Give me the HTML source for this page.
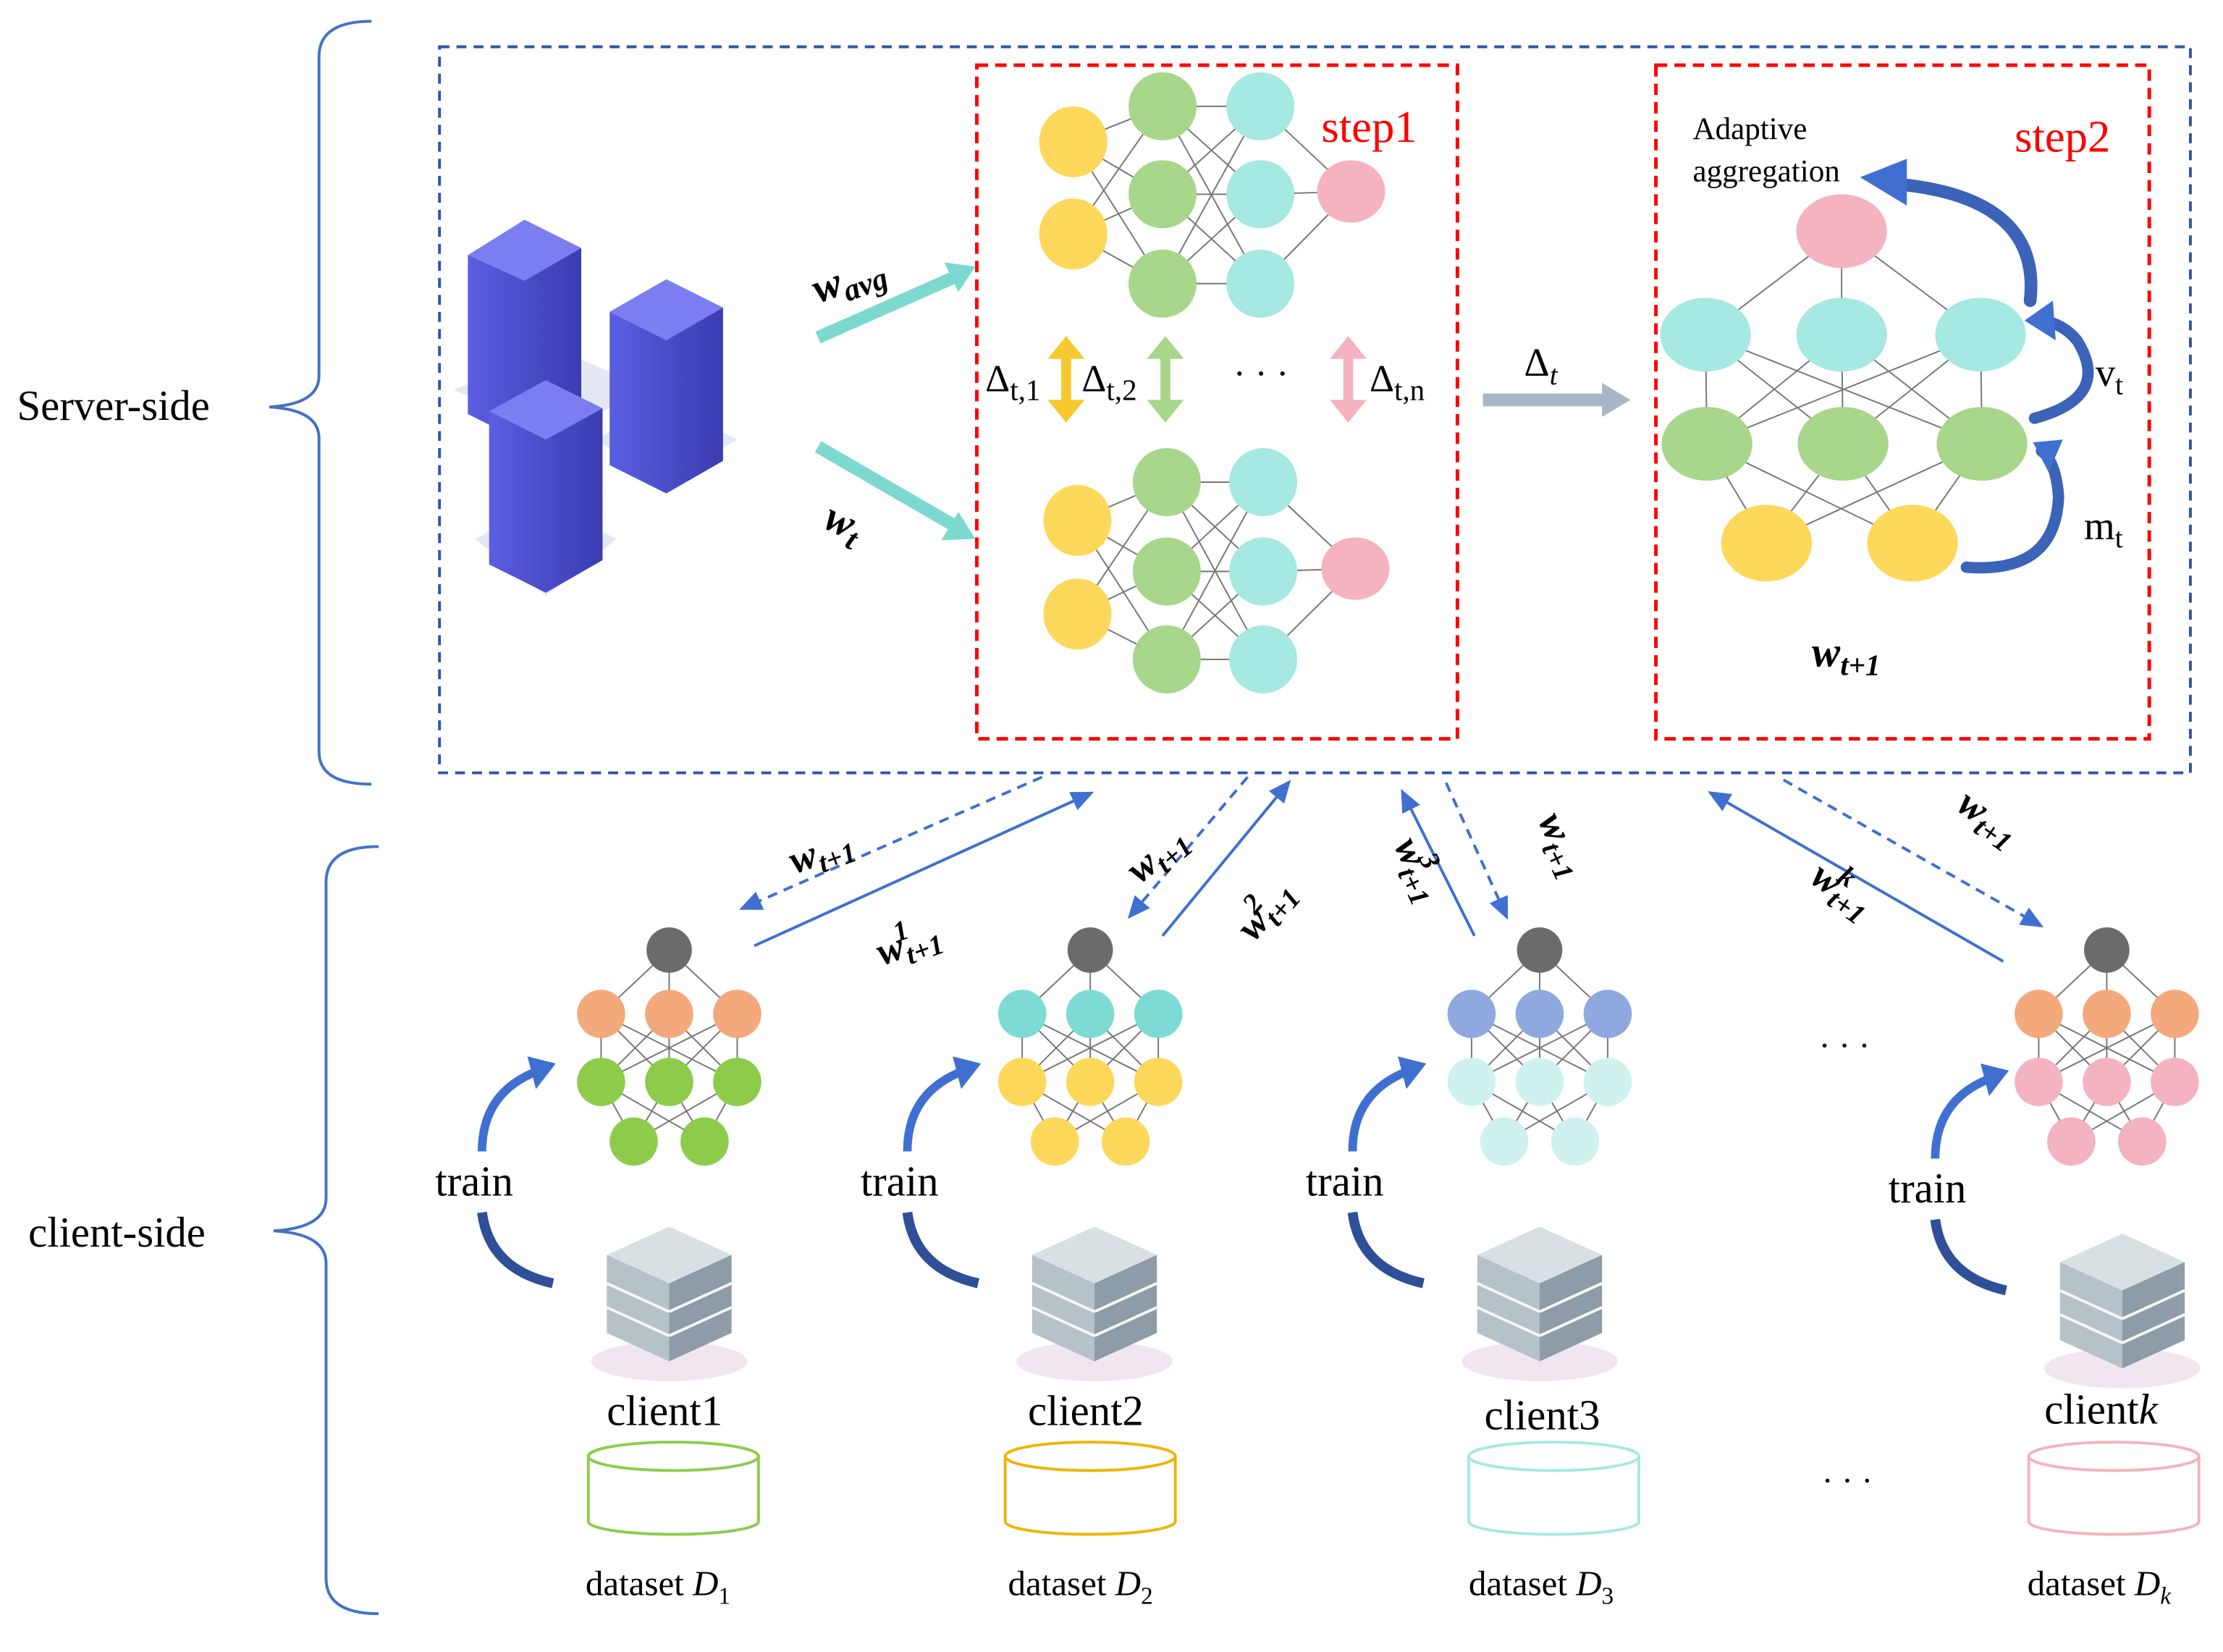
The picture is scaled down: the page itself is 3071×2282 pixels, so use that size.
<!DOCTYPE html>
<html><head><meta charset="utf-8"><style>
html,body{margin:0;padding:0;background:#fff;}
svg{display:block;}
text{font-family:"Liberation Serif",serif;}
</style></head><body>
<svg width="3071" height="2282" viewBox="0 0 1568 1165" preserveAspectRatio="none" xmlns="http://www.w3.org/2000/svg">
<defs>
<marker id="ab2" markerWidth="16" markerHeight="14" refX="12" refY="7" orient="auto" markerUnits="userSpaceOnUse"><path d="M0,0 L16,7 L0,14 z" fill="#3f6fd0"/></marker>
<linearGradient id="tw" x1="0" x2="1"><stop offset="0" stop-color="#5a5ee0"/><stop offset="1" stop-color="#3a3cb0"/></linearGradient>
</defs>
<g fill="none" stroke="#4472c4" stroke-width="2">
<path d="M262,15 Q225,15 225,40 L225,265 Q225,285 190,287 Q225,289 225,309 L225,530 Q225,553 262,553"/>
<path d="M267,597 Q230,597 230,622 L230,845 Q230,866 193,868 Q230,870 230,891 L230,1113 Q230,1138 267,1138"/>
</g>
<text x="12" y="296" font-size="30">Server-side</text>
<text x="20" y="879" font-size="30">client-side</text>
<rect x="310" y="33" width="1235" height="512" fill="none" stroke="#2f55a8" stroke-width="2" stroke-dasharray="7,5"/>
<rect x="689" y="46" width="339" height="475" fill="none" stroke="#ff0000" stroke-width="2.5" stroke-dasharray="8,5"/>
<rect x="1168" y="46" width="348" height="475" fill="none" stroke="#ff0000" stroke-width="2.5" stroke-dasharray="8,5"/>
<text x="932" y="100" font-size="32" fill="#ff0000">step1</text>
<text x="1421" y="107" font-size="32" fill="#ff0000">step2</text>
<g>
<polygon points="320,275 390,245 460,275 390,305" fill="#e4e8f4"/>
<polygon points="330,180 370,155 410,175 410,290 370,312 330,292" fill="url(#tw)"/>
<polygon points="370,155 410,175 370,198 330,180" fill="#7a7ef0"/>
<polygon points="420,310 470,285 520,310 470,340" fill="#e4e8f4"/>
<polygon points="430,220 470,197 510,217 510,325 470,348 430,328" fill="url(#tw)"/>
<polygon points="470,197 510,217 470,240 430,220" fill="#7a7ef0"/>
<polygon points="335,380 385,355 435,380 385,420" fill="#e4e8f4"/>
<polygon points="345,290 385,268 425,288 425,395 385,418 345,398" fill="url(#tw)"/>
<polygon points="385,268 425,288 385,310 345,290" fill="#7a7ef0"/>
</g>
<g stroke="#7dd9cf" stroke-width="9">
<line x1="577" y1="238" x2="672" y2="196"/>
<line x1="577" y1="315" x2="672" y2="370"/>
</g>
<polygon points="688,188 666,185 676,206" fill="#7dd9cf"/>
<polygon points="688,380 664,381 676,361" fill="#7dd9cf"/>
<text x="572" y="205" font-size="30" font-style="italic" font-weight="bold" transform="rotate(-20 600 195)">w<tspan font-size="22" dy="6">avg</tspan></text>
<text x="582" y="380" font-size="30" font-style="italic" font-weight="bold" transform="rotate(25 600 370)">w<tspan font-size="22" dy="6">t</tspan></text>
<g stroke="#777" stroke-width="1">
<path d="M757,100 L820,75 M757,100 L820,137 M757,100 L820,200 M757,165 L820,75 M757,165 L820,137 M757,165 L820,200
M820,75 L889,75 M820,75 L889,137 M820,75 L889,200 M820,137 L889,75 M820,137 L889,137 M820,137 L889,200 M820,200 L889,75 M820,200 L889,137 M820,200 L889,200
M889,75 L953,135 M889,137 L953,135 M889,200 L953,135"/>
<path d="M760,367 L823,340 M760,367 L823,403 M760,367 L823,465 M760,433 L823,340 M760,433 L823,403 M760,433 L823,465
M823,340 L891,340 M823,340 L891,403 M823,340 L891,465 M823,403 L891,340 M823,403 L891,403 M823,403 L891,465 M823,465 L891,340 M823,465 L891,403 M823,465 L891,465
M891,340 L956,401 M891,403 L956,401 M891,465 L956,401"/>
</g>
<g>
<ellipse cx="757" cy="100" rx="24" ry="25" fill="#fdd85a"/><ellipse cx="757" cy="165" rx="24" ry="25" fill="#fdd85a"/>
<ellipse cx="820" cy="75" rx="24" ry="24" fill="#a8d68a"/><ellipse cx="820" cy="137" rx="24" ry="24" fill="#a8d68a"/><ellipse cx="820" cy="200" rx="24" ry="24" fill="#a8d68a"/>
<ellipse cx="889" cy="75" rx="24" ry="24" fill="#a6e8e2"/><ellipse cx="889" cy="137" rx="24" ry="24" fill="#a6e8e2"/><ellipse cx="889" cy="200" rx="24" ry="24" fill="#a6e8e2"/>
<ellipse cx="953" cy="135" rx="24" ry="22" fill="#f4b3be"/>
<ellipse cx="760" cy="367" rx="24" ry="25" fill="#fdd85a"/><ellipse cx="760" cy="433" rx="24" ry="25" fill="#fdd85a"/>
<ellipse cx="823" cy="340" rx="24" ry="24" fill="#a8d68a"/><ellipse cx="823" cy="403" rx="24" ry="24" fill="#a8d68a"/><ellipse cx="823" cy="465" rx="24" ry="24" fill="#a8d68a"/>
<ellipse cx="891" cy="340" rx="24" ry="24" fill="#a6e8e2"/><ellipse cx="891" cy="403" rx="24" ry="24" fill="#a6e8e2"/><ellipse cx="891" cy="465" rx="24" ry="24" fill="#a6e8e2"/>
<ellipse cx="956" cy="401" rx="24" ry="22" fill="#f4b3be"/>
</g>
<g stroke-width="7">
<line x1="752" y1="250" x2="752" y2="285" stroke="#f7c830"/>
<line x1="822" y1="250" x2="822" y2="285" stroke="#a8d68a"/>
<line x1="951" y1="250" x2="951" y2="285" stroke="#f4b3be"/>
</g>
<polygon points="739,253 752,237 765,253" fill="#f7c830"/><polygon points="739,282 752,298 765,282" fill="#f7c830"/>
<polygon points="809,253 822,237 835,253" fill="#a8d68a"/><polygon points="809,282 822,298 835,282" fill="#a8d68a"/>
<polygon points="938,253 951,237 964,253" fill="#f4b3be"/><polygon points="938,282 951,298 964,282" fill="#f4b3be"/>
<text x="695" y="276" font-size="27" font-family="Liberation Sans,sans-serif">Δ<tspan font-size="21" dy="6">t,1</tspan></text>
<text x="763" y="276" font-size="27" font-family="Liberation Sans,sans-serif">Δ<tspan font-size="21" dy="6">t,2</tspan></text>
<text x="870" y="272" font-size="26" font-family="Liberation Sans,sans-serif">· · ·</text>
<text x="966" y="276" font-size="27" font-family="Liberation Sans,sans-serif">Δ<tspan font-size="21" dy="6">t,n</tspan></text>
<line x1="1046" y1="282" x2="1132" y2="282" stroke="#a9b6c8" stroke-width="9"/>
<polygon points="1150,282 1130,270 1130,294" fill="#a9b6c8"/>
<text x="1075" y="265" font-size="28" font-family="Liberation Sans,sans-serif">Δ<tspan font-size="20" dy="6" font-style="italic">t</tspan></text>
<g stroke="#777" stroke-width="1">
<path d="M1299,163 L1203,236 M1299,163 L1299,236 M1299,163 L1397,236
M1203,236 L1204,313 M1203,236 L1300,313 M1203,236 L1398,313 M1299,236 L1204,313 M1299,236 L1300,313 M1299,236 L1398,313 M1397,236 L1204,313 M1397,236 L1300,313 M1397,236 L1398,313
M1204,313 L1246,383 M1204,313 L1349,383 M1300,313 L1246,383 M1300,313 L1349,383 M1398,313 L1246,383 M1398,313 L1349,383"/>
</g>
<ellipse cx="1299" cy="163" rx="32" ry="26" fill="#f4b3be"/>
<ellipse cx="1203" cy="236" rx="32" ry="26" fill="#a6e8e2"/><ellipse cx="1299" cy="236" rx="32" ry="26" fill="#a6e8e2"/><ellipse cx="1397" cy="236" rx="32" ry="26" fill="#a6e8e2"/>
<ellipse cx="1204" cy="313" rx="32" ry="26" fill="#a8d68a"/><ellipse cx="1300" cy="313" rx="32" ry="26" fill="#a8d68a"/><ellipse cx="1398" cy="313" rx="32" ry="26" fill="#a8d68a"/>
<ellipse cx="1246" cy="383" rx="32" ry="27" fill="#fdd85a"/><ellipse cx="1349" cy="383" rx="32" ry="27" fill="#fdd85a"/>
<text x="1194" y="98" font-size="22">Adaptive</text>
<text x="1194" y="128" font-size="22">aggregation</text>
<text x="1278" y="470" font-size="30" font-style="italic" font-weight="bold">w<tspan font-size="21" dy="6">t+1</tspan></text>
<text x="1478" y="272" font-size="28" font-family="Liberation Sans,sans-serif">v<tspan font-size="20" dy="6">t</tspan></text>
<text x="1470" y="380" font-size="28" font-family="Liberation Sans,sans-serif">m<tspan font-size="20" dy="6">t</tspan></text>
<g fill="none" stroke="#3b64b8" stroke-linecap="round">
<path d="M1432,212 Q1440,140 1340,130" stroke-width="9"/>
<path d="M1435,295 Q1490,280 1465,240 Q1455,228 1440,226" stroke-width="8"/>
<path d="M1387,400 Q1450,405 1452,350 Q1450,325 1440,318" stroke-width="8"/>
</g>
<polygon points="1312,125 1345,112 1345,145" fill="#3f6fd0"/>
<polygon points="1428,226 1448,212 1450,240" fill="#3f6fd0"/>
<polygon points="1434,312 1455,310 1445,333" fill="#3f6fd0"/>
<g stroke="#3f6fd0" stroke-width="2" fill="none">
<line x1="735" y1="548" x2="525" y2="640" stroke-dasharray="7,5" marker-end="url(#ab2)"/>
<line x1="532" y1="667" x2="768" y2="560" marker-end="url(#ab2)"/>
<line x1="880" y1="548" x2="798" y2="645" stroke-dasharray="7,5" marker-end="url(#ab2)"/>
<line x1="820" y1="660" x2="908" y2="553" marker-end="url(#ab2)"/>
<line x1="1040" y1="660" x2="990" y2="560" marker-end="url(#ab2)"/>
<line x1="1020" y1="552" x2="1062" y2="645" stroke-dasharray="7,5" marker-end="url(#ab2)"/>
<line x1="1413" y1="678" x2="1208" y2="560" marker-end="url(#ab2)"/>
<line x1="1258" y1="550" x2="1438" y2="652" stroke-dasharray="7,5" marker-end="url(#ab2)"/>
</g>
<g font-size="28" font-style="italic" font-weight="bold">
<text x="555" y="605" transform="rotate(-20 590 595)">w<tspan font-size="20" dy="6">t+1</tspan></text>
<text x="615" y="670" transform="rotate(-20 650 655)">w<tspan font-size="20" dy="6">t+1</tspan><tspan font-size="20" dx="-30" dy="-18">1</tspan></text>
<text x="788" y="610" transform="rotate(-40 815 595)">w<tspan font-size="20" dy="6">t+1</tspan></text>
<text x="858" y="652" transform="rotate(-50 885 630)">w<tspan font-size="20" dy="6">t+1</tspan><tspan font-size="20" dx="-30" dy="-18">2</tspan></text>
<text x="955" y="610" transform="rotate(65 980 625)">w<tspan font-size="20" dy="6">t+1</tspan><tspan font-size="20" dx="-30" dy="-18">3</tspan></text>
<text x="1055" y="585" transform="rotate(65 1075 605)">w<tspan font-size="20" dy="6">t+1</tspan></text>
<text x="1262" y="635" transform="rotate(35 1290 650)">w<tspan font-size="20" dy="6">t+1</tspan><tspan font-size="20" dx="-30" dy="-18">k</tspan></text>
<text x="1365" y="585" transform="rotate(35 1395 600)">w<tspan font-size="20" dy="6">t+1</tspan></text>
</g>
<text x="1283" y="745" font-size="24">· · ·</text>
<text x="1285" y="1052" font-size="24">· · ·</text>
<path id="ed" stroke="#777" stroke-width="1" fill="none" d="M472,670 L424,715 M472,670 L472,715 M472,670 L520,715 M424,715 L424,763 M424,715 L472,763 M424,715 L520,763 M472,715 L424,763 M472,715 L472,763 M472,715 L520,763 M520,715 L424,763 M520,715 L472,763 M520,715 L520,763 M424,763 L447,805 M424,763 L497,805 M472,763 L447,805 M472,763 L497,805 M520,763 L447,805 M520,763 L497,805"/>
<use href="#ed" transform="translate(297,0)"/>
<use href="#ed" transform="translate(614,0)"/>
<use href="#ed" transform="translate(1014,0)"/>
<g>
<circle cx="472" cy="670" r="16" fill="#6d6a6a"/>
<circle cx="424" cy="715" r="17" fill="#f4a97c"/><circle cx="472" cy="715" r="17" fill="#f4a97c"/><circle cx="520" cy="715" r="17" fill="#f4a97c"/>
<circle cx="424" cy="763" r="17" fill="#8dcc4a"/><circle cx="472" cy="763" r="17" fill="#8dcc4a"/><circle cx="520" cy="763" r="17" fill="#8dcc4a"/>
<circle cx="447" cy="805" r="17" fill="#8dcc4a"/><circle cx="497" cy="805" r="17" fill="#8dcc4a"/>
<circle cx="769" cy="670" r="16" fill="#6d6a6a"/>
<circle cx="721" cy="715" r="17" fill="#7ddbd3"/><circle cx="769" cy="715" r="17" fill="#7ddbd3"/><circle cx="817" cy="715" r="17" fill="#7ddbd3"/>
<circle cx="721" cy="763" r="17" fill="#fdd85a"/><circle cx="769" cy="763" r="17" fill="#fdd85a"/><circle cx="817" cy="763" r="17" fill="#fdd85a"/>
<circle cx="744" cy="805" r="17" fill="#fdd85a"/><circle cx="794" cy="805" r="17" fill="#fdd85a"/>
<circle cx="1086" cy="670" r="16" fill="#6d6a6a"/>
<circle cx="1038" cy="715" r="17" fill="#8fa8e0"/><circle cx="1086" cy="715" r="17" fill="#8fa8e0"/><circle cx="1134" cy="715" r="17" fill="#8fa8e0"/>
<circle cx="1038" cy="763" r="17" fill="#d0f2ef"/><circle cx="1086" cy="763" r="17" fill="#d0f2ef"/><circle cx="1134" cy="763" r="17" fill="#d0f2ef"/>
<circle cx="1061" cy="805" r="17" fill="#d0f2ef"/><circle cx="1111" cy="805" r="17" fill="#d0f2ef"/>
<circle cx="1486" cy="670" r="16" fill="#6d6a6a"/>
<circle cx="1438" cy="715" r="17" fill="#f4a97c"/><circle cx="1486" cy="715" r="17" fill="#f4a97c"/><circle cx="1534" cy="715" r="17" fill="#f4a97c"/>
<circle cx="1438" cy="763" r="17" fill="#f4b3c0"/><circle cx="1486" cy="763" r="17" fill="#f4b3c0"/><circle cx="1534" cy="763" r="17" fill="#f4b3c0"/>
<circle cx="1461" cy="805" r="17" fill="#f4b3c0"/><circle cx="1511" cy="805" r="17" fill="#f4b3c0"/>
</g>
<g id="cl">
<path d="M340,812 Q340,770 380,755" fill="none" stroke="#3f6fd0" stroke-width="6"/>
<polygon points="392,750 372,745 378,768" fill="#3f6fd0"/>
<path d="M340,855 Q345,895 390,905" fill="none" stroke="#2f4f98" stroke-width="7"/>
<text x="307" y="843" font-size="30">train</text>
<ellipse cx="472" cy="960" rx="55" ry="14" fill="#efe6f0"/>
<polygon points="428,885 472,865 516,885 472,905" fill="#d8e0e4"/>
<polygon points="428,885 472,905 472,960 428,940" fill="#b6c2c8"/>
<polygon points="472,905 516,885 516,940 472,960" fill="#8d9ca6"/>
<line x1="428" y1="905" x2="472" y2="925" stroke="#f4f6f8" stroke-width="2"/><line x1="472" y1="925" x2="516" y2="905" stroke="#f4f6f8" stroke-width="2"/>
<line x1="428" y1="922" x2="472" y2="942" stroke="#f4f6f8" stroke-width="2"/><line x1="472" y1="942" x2="516" y2="922" stroke="#f4f6f8" stroke-width="2"/>
</g>
<use href="#cl" transform="translate(300,0)"/>
<use href="#cl" transform="translate(614,0)"/>
<use href="#cl" transform="translate(1025,5)"/>
<text x="428" y="1005" font-size="30">client1</text>
<text x="725" y="1005" font-size="30">client2</text>
<text x="1047" y="1008" font-size="30">client3</text>
<text x="1442" y="1004" font-size="30">client<tspan font-style="italic">k</tspan></text>
<g fill="#fff" stroke-width="2">
<path d="M415,1027 L415,1073 A60,9 0 0 0 535,1073 L535,1027" stroke="#8dcc4a"/><ellipse cx="475" cy="1027" rx="60" ry="10" stroke="#8dcc4a"/>
<path d="M709,1027 L709,1073 A60,9 0 0 0 829,1073 L829,1027" stroke="#f0b400"/><ellipse cx="769" cy="1027" rx="60" ry="10" stroke="#f0b400"/>
<path d="M1036,1027 L1036,1073 A60,9 0 0 0 1156,1073 L1156,1027" stroke="#a6e8e2"/><ellipse cx="1096" cy="1027" rx="60" ry="10" stroke="#a6e8e2"/>
<path d="M1431,1027 L1431,1073 A60,9 0 0 0 1551,1073 L1551,1027" stroke="#f4b3be"/><ellipse cx="1491" cy="1027" rx="60" ry="10" stroke="#f4b3be"/>
</g>
<g font-size="25">
<text x="413" y="1125">dataset <tspan font-style="italic">D</tspan><tspan font-size="17" dy="6">1</tspan></text>
<text x="711" y="1125">dataset <tspan font-style="italic">D</tspan><tspan font-size="17" dy="6">2</tspan></text>
<text x="1036" y="1125">dataset <tspan font-style="italic">D</tspan><tspan font-size="17" dy="6">3</tspan></text>
<text x="1430" y="1125">dataset <tspan font-style="italic">D</tspan><tspan font-size="17" dy="6" font-style="italic">k</tspan></text>
</g>
</svg>
</body></html>
